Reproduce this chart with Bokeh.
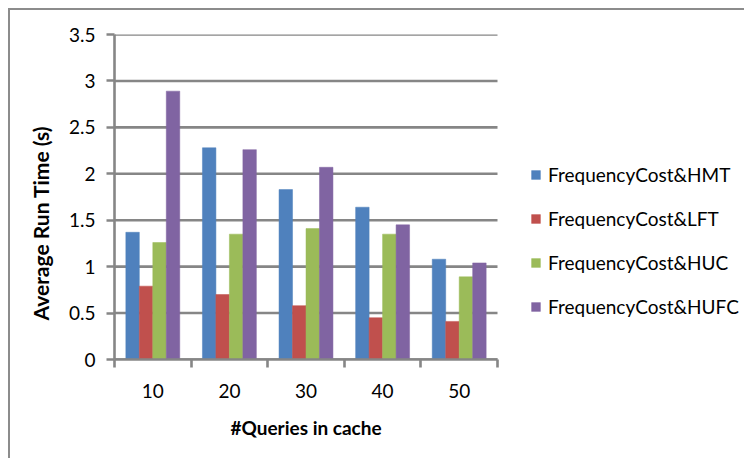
from bokeh.plotting import figure
from bokeh.models import (ColumnDataSource, FixedTicker, NumeralTickFormatter, Legend,
                          LegendItem, Range1d, Title)
from bokeh.embed import file_html
from bokeh.resources import INLINE

categories = ["10", "20", "30", "40", "50"]
series_names = ["FrequencyCost&HMT", "FrequencyCost&LFT", "FrequencyCost&HUC", "FrequencyCost&HUFC"]
hmt = [1.37, 2.28, 1.83, 1.64, 1.08]
lft = [0.79, 0.70, 0.58, 0.45, 0.41]
huc = [1.26, 1.35, 1.41, 1.35, 0.89]
hufc = [2.89, 2.26, 2.07, 1.45, 1.04]
y_ticks = [0, 0.5, 1, 1.5, 2, 2.5, 3, 3.5]

colors = ["#4F81BD", "#C0504D", "#9BBB59", "#8064A2"]
FONT = "Lato"
GRID = "#868686"
FS = "19px"

n = len(categories)
W, H = 736, 450
LEFT = 104
# frame spans from the y axis to the right edge; the bar area covers 383 px of it
x_end = n * (W - LEFT) / 383

p = figure(width=W, height=H, output_backend="svg", toolbar_location=None,
           x_range=Range1d(0, x_end), y_range=Range1d(0, 3.5),
           min_border_left=LEFT, min_border_right=0, min_border_top=24, min_border_bottom=101)
p.styles = {"margin-left": "8px", "margin-top": "8px",
            "border-left": "2px solid #8c8c8c", "border-top": "2px solid #8c8c8c",
            "border-right": "none", "border-bottom": "none"}
p.outline_line_color = None
p.border_fill_color = "white"
p.xgrid.visible = False
p.ygrid.visible = False

# horizontal grid lines limited to the category area
grid_src = ColumnDataSource(dict(x0=[0] * len(y_ticks), x1=[n] * len(y_ticks),
                                 y=y_ticks))
p.segment(x0="x0", y0="y", x1="x1", y1="y", source=grid_src,
          line_color=GRID, line_width=2.6)

all_series = [hmt, lft, huc, hufc]
bar_w = 0.176
offsets = [-1.5 * bar_w, -0.5 * bar_w, 0.5 * bar_w, 1.5 * bar_w]
centers = [i + 0.5 for i in range(n)]
items = []
for name, vals, col, off in zip(series_names, all_series, colors, offsets):
    src = ColumnDataSource(dict(x=[c + off for c in centers], top=vals))
    r = p.vbar(x="x", top="top", bottom=0, width=bar_w, source=src,
               fill_color=col, line_color=col, line_width=0.5)
    items.append(LegendItem(label=name, renderers=[r]))

# y axis
ya = p.yaxis[0]
ya.ticker = FixedTicker(ticks=y_ticks)
ya.formatter = NumeralTickFormatter(format="0.[0]")
ya.axis_line_color = GRID
ya.axis_line_width = 2.6
ya.major_tick_line_color = GRID
ya.major_tick_line_width = 2.6
ya.major_tick_out = 8
ya.major_tick_in = 0
ya.minor_tick_line_color = None
ya.major_label_standoff = 11
ya.major_label_text_font = FONT
ya.major_label_text_font_size = FS
ya.major_label_text_color = "black"

has_standoff = "standoff" in Title.properties()

ytitle = Title(text="Average Run Time (s)", align="left", offset=39,
               text_font=FONT, text_font_style="bold", text_font_size="21px",
               text_color="black")
if has_standoff:
    ytitle.standoff = 25
p.add_layout(ytitle, "left")

# x axis
xa = p.xaxis[0]
xa.bounds = (0, n)
xa.ticker = FixedTicker(ticks=centers, minor_ticks=list(range(n + 1)))
xa.major_label_overrides = {c: lab for c, lab in zip(centers, categories)}
xa.axis_line_color = GRID
xa.axis_line_width = 2.6
xa.major_tick_line_color = None
xa.major_tick_out = 0
xa.major_tick_in = 0
xa.minor_tick_line_color = GRID
xa.minor_tick_line_width = 2.6
xa.minor_tick_out = 8
xa.minor_tick_in = 0
xa.major_label_standoff = 16
xa.major_label_text_font = FONT
xa.major_label_text_font_size = FS
xa.major_label_text_color = "black"

xtitle = Title(text="#Queries in cache", align="left", offset=116,
               text_font=FONT, text_font_style="bold", text_font_size=FS,
               text_color="black")
if has_standoff:
    xtitle.standoff = 26
p.add_layout(xtitle, "below")

legend = Legend(items=items, location=(416, 41), orientation="vertical",
                glyph_width=11, glyph_height=11, label_standoff=7, spacing=21,
                label_height=20, label_text_font=FONT, label_text_font_size=FS,
                label_text_color="black", border_line_color=None, background_fill_alpha=0,
                padding=0, margin=0)
p.add_layout(legend)

open("out.html", "w").write(file_html(p, INLINE))
